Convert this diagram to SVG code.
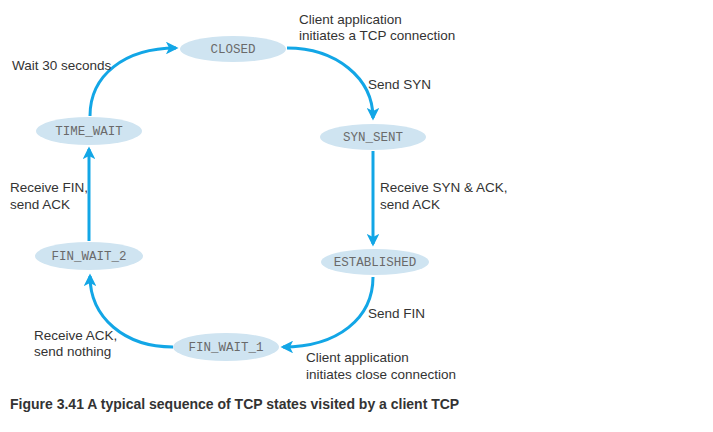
<svg xmlns="http://www.w3.org/2000/svg" width="713" height="432" viewBox="0 0 713 432">
<defs>
<marker id="ah" viewBox="0 0 10 10" refX="8" refY="5" markerWidth="4.2" markerHeight="4.2" orient="auto" markerUnits="strokeWidth">
<path d="M0,0 L10,5 L0,10 L2.5,5 Z" fill="#12a6e6"/>
</marker>
<style>
.st ellipse{fill:#cfe4f1;}
.st text{font-family:"Liberation Mono","DejaVu Sans Mono",monospace;font-size:12.5px;fill:#6a6a6a;text-anchor:middle;}
.lbl{font-family:"Liberation Sans","Open Sans",Arial,sans-serif;font-size:13.5px;fill:#333;}
.cap{font-family:"Liberation Sans",Arial,sans-serif;font-size:14px;font-weight:bold;fill:#333;}
.edge{fill:none;stroke:#12a6e6;stroke-width:3;marker-end:url(#ah);}
</style>
</defs>
<rect width="713" height="432" fill="#fff"/>
<g id="connectors">
<path class="edge" d="M287,48 C336,48 373,78 373,118"/>
<path class="edge" d="M373,151 L373,244"/>
<path class="edge" d="M373,277 C373,318 338,347 283,347"/>
<path class="edge" d="M173,347 C125,347 90,318 90,276"/>
<path class="edge" d="M89,241 L89,149"/>
<path class="edge" d="M90,116 C90,75 125,48 176,48"/>
</g>
<g id="closed" class="st"><ellipse cx="233" cy="49" rx="53" ry="13"/><text x="233" y="53">CLOSED</text></g>
<g id="syn_sent" class="st"><ellipse cx="373" cy="137" rx="53" ry="13"/><text x="373" y="141">SYN_SENT</text></g>
<g id="established" class="st"><ellipse cx="375" cy="262" rx="54" ry="13"/><text x="375" y="266">ESTABLISHED</text></g>
<g id="fin_wait_1" class="st"><ellipse cx="226" cy="347" rx="53" ry="14"/><text x="226" y="351">FIN_WAIT_1</text></g>
<g id="fin_wait_2" class="st"><ellipse cx="89" cy="256" rx="54" ry="14"/><text x="89" y="260">FIN_WAIT_2</text></g>
<g id="time_wait" class="st"><ellipse cx="89" cy="131" rx="53" ry="14"/><text x="89" y="135">TIME_WAIT</text></g>
<g id="labels">
<text class="lbl" x="299" y="24">Client application</text>
<text class="lbl" x="299" y="40">initiates a TCP connection</text>
<text class="lbl" x="368" y="89">Send SYN</text>
<text class="lbl" x="12" y="70">Wait 30 seconds</text>
<text class="lbl" x="10" y="192">Receive FIN,</text>
<text class="lbl" x="10" y="209">send ACK</text>
<text class="lbl" x="380" y="192">Receive SYN &amp; ACK,</text>
<text class="lbl" x="380" y="209">send ACK</text>
<text class="lbl" x="368" y="318">Send FIN</text>
<text class="lbl" x="34" y="340">Receive ACK,</text>
<text class="lbl" x="34" y="356">send nothing</text>
<text class="lbl" x="306" y="362">Client application</text>
<text class="lbl" x="306" y="379">initiates close connection</text>
<text class="cap" x="10" y="409">Figure 3.41 A typical sequence of TCP states visited by a client TCP</text>
</g>
</svg>
